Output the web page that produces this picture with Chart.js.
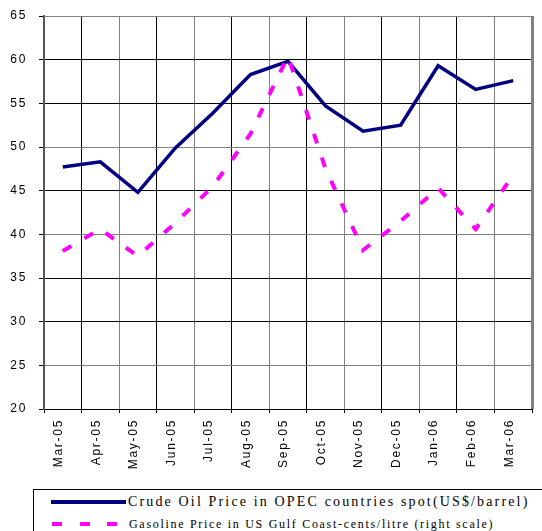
<!DOCTYPE html>
<html>
<head>
<meta charset="utf-8">
<script src="https://cdn.jsdelivr.net/npm/chart.js@4/dist/chart.umd.min.js"></script>
<style>
  body { margin: 0; background: #fff; }
  #wrap { position: relative; width: 542px; height: 531px; overflow: hidden; }
  #chart { position: absolute; left: 0; top: 0; }
  #legend { position: absolute; left: 33px; top: 489px; width: 540px; height: 70px; border: 1px solid #000;
            font-family: 'Liberation Serif', 'Times New Roman', serif; color: #000; }
  .item { position: absolute; white-space: nowrap; }
  .solid { position: absolute; left: 17px; top: 10px; width: 75px; height: 4px; background: #000080; }
  .dash { position: absolute; top: 32px; width: 10px; height: 4px; background: #ff00ff; }
</style>
</head>
<body>
<div id="wrap">
  <canvas id="chart" width="542" height="475"></canvas>
  <div id="legend">
    <div class="solid"></div>
    <div class="item" style="left:94px; top:3px; font-size:14px; line-height:18px; letter-spacing:2.15px;">Crude Oil Price in OPEC countries spot(US$/barrel)</div>
    <div class="dash" style="left:18px"></div>
    <div class="dash" style="left:46px"></div>
    <div class="dash" style="left:73px"></div>
    <div class="item" style="left:95px; top:26px; font-size:12px; line-height:16px; letter-spacing:1.7px;">Gasoline Price in US Gulf Coast-cents/litre (right scale)</div>
  </div>
</div>
<script>
// valori
var mesi = ['Mar-05', 'Apr-05', 'May-05', 'Jun-05', 'Jul-05', 'Aug-05', 'Sep-05',
            'Oct-05', 'Nov-05', 'Dec-05', 'Jan-06', 'Feb-06', 'Mar-06'];
var greggio = [47.7, 48.3, 44.8, 49.9, 53.9, 58.3, 59.8, 54.7, 51.8, 52.5, 59.3, 56.6, 57.6];
var benzina = [38.1, 40.6, 37.5, 41.3, 45.5, 51.5, 60.4, 47.5, 38.2, 41.5, 45.3, 40.6, 46.8];
var yMin = 20, yMax = 65, yPasso = 5;
var lineeGrigie = [25, 40, 50, 65];

Chart.defaults.font.family = "'Liberation Sans', Arial, sans-serif";
Chart.defaults.color = '#000';

// spaziatura lettere come nell'originale
var spaziatura = {
  id: 'spaziatura',
  beforeLayout: function(chart) { chart.ctx.letterSpacing = '1.7px'; },
  beforeDraw: function(chart) { chart.ctx.letterSpacing = '1.7px'; }
};

// bordo superiore e destro dell'area del grafico
var cornice = {
  id: 'cornice',
  afterDraw: function(chart) {
    var c = chart.ctx, a = chart.chartArea;
    c.save();
    c.strokeStyle = '#808080';
    c.lineWidth = 1;
    c.beginPath(); c.moveTo(a.left, Math.round(a.top) + 0.5); c.lineTo(a.right, Math.round(a.top) + 0.5); c.stroke();
    c.lineWidth = 3;
    c.beginPath(); c.moveTo(Math.round(a.right) + 0.5, a.top); c.lineTo(Math.round(a.right) + 0.5, a.bottom); c.stroke();
    c.restore();
  }
};

var ctx = document.getElementById('chart').getContext('2d');
var grafico = new Chart(ctx, {
  type: 'line',
  data: {
    labels: mesi,
    datasets: [{
      label: 'Crude Oil Price in OPEC countries spot(US$/barrel)',
      data: greggio,
      borderColor: '#000080',
      borderWidth: 3.5,
      pointRadius: 0,
      tension: 0,
      order: 1
    }, {
      label: 'Gasoline Price in US Gulf Coast-cents/litre (right scale)',
      data: benzina,
      borderColor: '#ff00ff',
      borderWidth: 4,
      borderDash: [10, 15],
      borderCapStyle: 'butt',
      pointRadius: 0,
      tension: 0,
      order: 0
    }]
  },
  options: {
    responsive: false,
    animation: false,
    layout: { padding: { left: 0, right: 10, top: 16, bottom: 6 } },
    plugins: { legend: { display: false }, tooltip: { enabled: false } },
    scales: {
      x: {
        offset: true,
        grid: {
          offset: true,
          color: function(c) { return c.index % 2 ? '#000' : '#808080'; },
          tickLength: 4,
          tickColor: '#000'
        },
        border: { color: '#000', width: 1 },
        ticks: { autoSkip: false, minRotation: 90, maxRotation: 90, padding: 6, labelOffset: -4, font: { size: 12 } },
        afterFit: function(s) { s.height = 60; }
      },
      y: {
        min: yMin,
        max: yMax,
        ticks: { stepSize: yPasso, padding: 12, font: { size: 12 } },
        grid: {
          color: function(c) { return c.tick && lineeGrigie.indexOf(c.tick.value) >= 0 ? '#808080' : '#000'; },
          tickLength: 5,
          tickColor: '#000'
        },
        border: { color: '#555', width: 2 },
        afterFit: function(s) { s.width = 44; s.paddingTop = 0; s.paddingBottom = 0; }
      }
    }
  },
  plugins: [spaziatura, cornice]
});
</script>
</body>
</html>
